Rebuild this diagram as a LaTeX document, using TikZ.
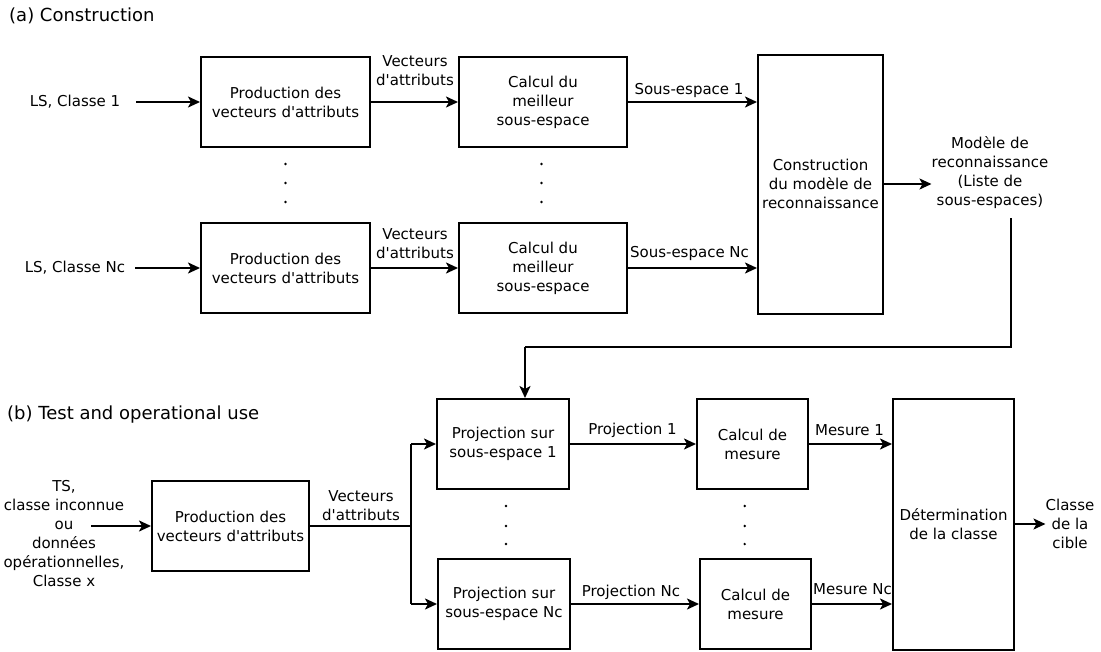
\documentclass[tikz,border=0pt]{standalone}
\usepackage{fontspec}
\newfontfamily\dv{DejaVu Sans}
\usetikzlibrary{arrows.meta}
\tikzset{
  box/.style={draw, line width=2pt, inner sep=0pt, align=center},
  lbl/.style={inner sep=0pt, align=center},
  ttl/.style={inner sep=0pt, anchor=west, font=\dv\fontsize{18}{22}\selectfont},
  arr/.style={line width=2pt, -{Stealth[length=12pt,width=11pt,inset=3pt]}},
  ln/.style={line width=2pt},
  dotp/.style={fill=black}
}
\begin{document}
\begin{tikzpicture}[x=1pt,y=-1pt,font=\dv\fontsize{15}{19}\selectfont]
\useasboundingbox (0,0) rectangle (1101,651);
% titles
\node[ttl] (ta) at (9,16) {(a) Construction};
\node[ttl] (tb) at (7,415) {(b) Test and operational use};
% part (a)
\node[box,minimum width=169,minimum height=90] (p1) at (285.5,102) {Production des\\vecteurs d'attributs};
\node[box,minimum width=168,minimum height=90] (c1) at (543,102) {Calcul du\\meilleur\\sous-espace};
\node[box,minimum width=169,minimum height=90] (p2) at (285.5,268) {Production des\\vecteurs d'attributs};
\node[box,minimum width=168,minimum height=90] (c2) at (543,268) {Calcul du\\meilleur\\sous-espace};
\node[box,minimum width=125,minimum height=259] (cons) at (820.5,184) {Construction\\du modèle de\\reconnaissance};
\node[lbl,inner xsep=16pt] (in1) at (75,102) {LS, Classe 1};
\node[lbl,inner xsep=10pt] (in2) at (75,268) {LS, Classe Nc};
\node[lbl] (v1) at (415,70.5) {Vecteurs\\d'attributs};
\node[lbl] (v2) at (415,244) {Vecteurs\\d'attributs};
\node[lbl] (s1) at (689,90) {Sous-espace 1};
\node[lbl] (s2) at (689.5,253) {Sous-espace Nc};
\node[lbl] (mod) at (990,173) {Modèle de\\reconnaissance\\(Liste de\\sous-espaces)};
\draw[arr] (in1.east) -- (p1.west);
\draw[arr] (in2.east) -- (p2.west);
\draw[arr] (p1.east) -- (c1.west);
\draw[arr] (p2.east) -- (c2.west);
\draw[arr] (c1.east) -- (c1.east -| cons.west);
\draw[arr] (c2.east) -- (c2.east -| cons.west);
\draw[arr] (cons.east) -- (cons.east -| mod.west);
\foreach \y in {164,183,202} {
  \fill[dotp] (285.5,\y) circle (1.3);
  \fill[dotp] (541.5,\y) circle (1.3);
}
% feedback
\coordinate (fb) at (1011,218);
\coordinate (fbt) at (525,347);
% part (b)
\node[box,minimum width=157,minimum height=90] (p3) at (230.5,526) {Production des\\vecteurs d'attributs};
\node[box,minimum width=132,minimum height=90] (j1) at (503,444) {Projection sur\\sous-espace 1};
\node[box,minimum width=132,minimum height=90] (j2) at (504,604) {Projection sur\\sous-espace Nc};
\node[box,minimum width=111,minimum height=90] (m1) at (752.5,444) {Calcul de\\mesure};
\node[box,minimum width=111,minimum height=90] (m2) at (755.5,604) {Calcul de\\mesure};
\node[box,minimum width=121,minimum height=251] (det) at (953.5,524) {Détermination\\de la classe};
\node[lbl] (ts) at (64,533.5) {TS,\\classe inconnue\\ou\\données\\opérationnelles,\\Classe x};
\coordinate (tsa) at (91,526);
\node[lbl] (v3) at (361,505.5) {Vecteurs\\d'attributs};
\coordinate (sp) at (411,526);
\node[lbl] (pr1) at (632.5,430) {Projection 1};
\node[lbl] (pr2) at (631,592) {Projection Nc};
\node[lbl] (me1) at (849.5,430) {Mesure 1};
\node[lbl] (me2) at (852.5,589) {Mesure Nc};
\node[lbl] (cls) at (1070,524) {Classe\\de la\\cible};
\draw[ln] (fb) |- (fbt);
\draw[arr] (fbt) -- (fbt |- j1.north);
\draw[arr] (tsa) -- (p3.west);
\draw[ln] (p3.east) -- (sp);
\draw[ln] (sp |- j1.west) -- (sp |- j2.west);
\draw[arr] (sp |- j1.west) -- (j1.west);
\draw[arr] (sp |- j2.west) -- (j2.west);
\draw[arr] (j1.east) -- (m1.west);
\draw[arr] (j2.east) -- (m2.west);
\draw[arr] (m1.east) -- (m1.east -| det.west);
\draw[arr] (m2.east) -- (m2.east -| det.west);
\draw[arr] (det.east) -- (det.east -| cls.west);
\foreach \y in {506,526,544} {
  \fill[dotp] (506,\y) circle (1.3);
  \fill[dotp] (744.7,\y) circle (1.3);
}
\end{tikzpicture}
\end{document}
